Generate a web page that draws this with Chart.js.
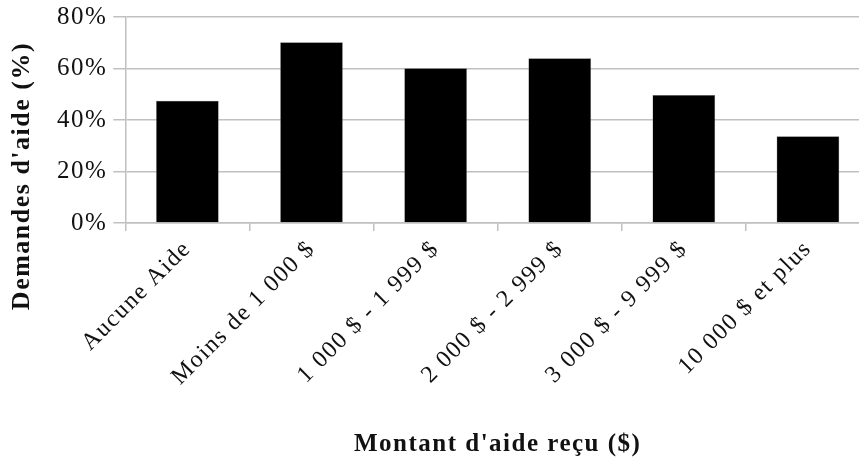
<!DOCTYPE html>
<html>
<head>
<meta charset="utf-8">
<script src="https://cdn.jsdelivr.net/npm/chart.js@4"></script>
<style>
  html, body { margin: 0; padding: 0; background: #fff; overflow: hidden; }
  #wrap { width: 870px; height: 464px; overflow: hidden; }
  #chart { margin-top: -4px; display: block; }
</style>
</head>
<body>
<div id="wrap"><canvas id="chart" width="870" height="468"></canvas></div>
<script>
// données
const categories = ['Aucune Aide', 'Moins de 1 000 $', '1 000 $ - 1 999 $', '2 000 $ - 2 999 $', '3 000 $ - 9 999 $', '10 000 $ et plus'];
const demandes = [47.5, 70.2, 60.1, 64.0, 49.7, 33.7];
const yTickLabels = ['0%', '20%', '40%', '60%', '80%'];
const yTitle = "Demandes d'aide (%)";
const xTitle = "Montant d'aide reçu ($)";

const serif = "'Liberation Serif', 'Times New Roman', serif";

// espacement des lettres, comme dans l'original
const spacing = {
  id: 'spacing',
  beforeUpdate(chart) { chart.ctx.letterSpacing = '1.5px'; },
  beforeDraw(chart) { chart.ctx.letterSpacing = '1.5px'; }
};

// titre de l'axe Y, centré sur la hauteur du graphique (pas seulement sur la zone de tracé)
const yTitlePlugin = {
  id: 'yTitle',
  afterDraw(chart) {
    const c = chart.ctx;
    c.save();
    c.letterSpacing = '1.5px';
    c.translate(22, 180);
    c.rotate(-Math.PI / 2);
    c.font = `bold 26px ${serif}`;
    c.fillStyle = '#111';
    c.textAlign = 'center';
    c.textBaseline = 'middle';
    c.fillText(yTitle, 0, 0);
    c.restore();
  }
};

const ctx = document.getElementById('chart').getContext('2d');
new Chart(ctx, {
  type: 'bar',
  data: {
    labels: categories,
    datasets: [{
      data: demandes,
      backgroundColor: '#000',
      borderColor: '#777',
      borderWidth: 0.5,
      categoryPercentage: 1,
      barPercentage: 0.505
    }]
  },
  options: {
    responsive: false,
    animation: false,
    // haut négatif : laisse plus de place à l'axe X (plafonné à la moitié de la hauteur)
    layout: { padding: { top: -10, right: 0, bottom: 4, left: 51 } },
    plugins: { legend: { display: false }, tooltip: { enabled: false } },
    scales: {
      x: {
        grid: { display: true, drawOnChartArea: false, drawTicks: true, tickLength: 8, color: '#c0c0c0', lineWidth: 1.5, offset: true },
        border: { color: '#c0c0c0', width: 1.5 },
        ticks: { color: '#111', font: { family: serif, size: 24 }, minRotation: 45, maxRotation: 45, padding: 4, autoSkip: false },
        title: { display: true, text: xTitle, color: '#111', font: { family: serif, size: 25, weight: 'bold' }, padding: { top: 42, bottom: 0 } }
      },
      y: {
        min: 0, max: 80,
        grid: { color: '#c0c0c0', lineWidth: 1.5, tickLength: 12 },
        border: { color: '#c0c0c0', width: 1.5 },
        ticks: {
          stepSize: 20,
          color: '#111',
          font: { family: serif, size: 25 },
          padding: 6,
          callback: (v) => yTickLabels[v / 20]
        }
      }
    }
  },
  plugins: [spacing, yTitlePlugin]
});
</script>
</body>
</html>
